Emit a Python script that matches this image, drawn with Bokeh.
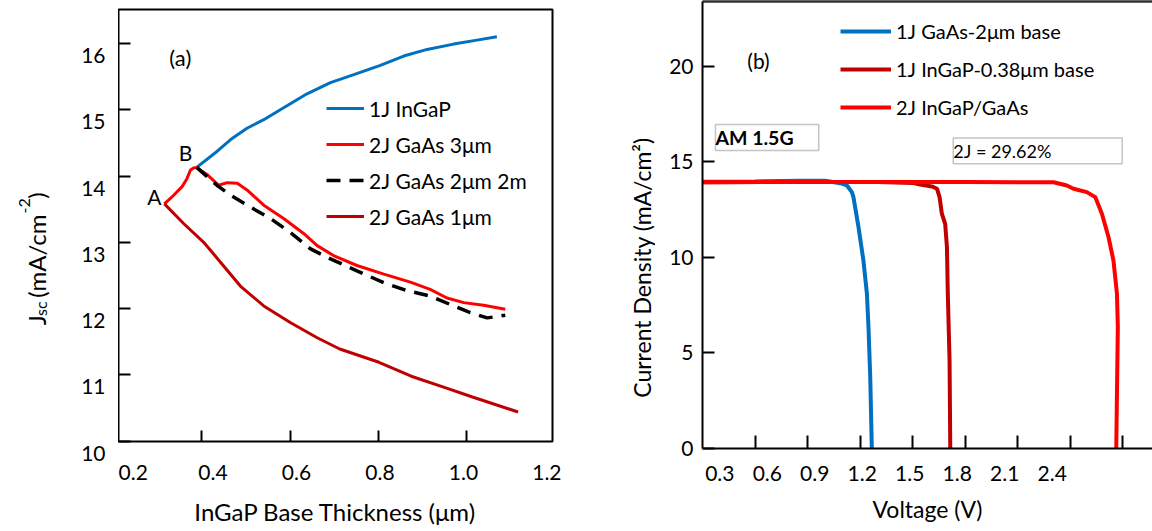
from math import pi
from bokeh.plotting import figure
from bokeh.models import (Range1d, LinearAxis, FixedTicker, Legend, LegendItem,
                          Label, BoxAnnotation, PrintfTickFormatter)
from bokeh.layouts import row
from bokeh.embed import file_html
from bokeh.resources import INLINE

FONT = "Lato"
BLUE = "#0070C0"
RED = "#FF0000"
DARK = "#C00000"

# ---------------- panel (a) data ----------------
ingap_thk = [0.388, 0.434, 0.465, 0.502, 0.540, 0.585, 0.638, 0.691, 0.744, 0.804, 0.857, 0.910, 0.970, 1.023, 1.068]
ingap_jsc = [14.13, 14.37, 14.55, 14.72, 14.85, 15.03, 15.24, 15.41, 15.53, 15.67, 15.81, 15.91, 15.99, 16.05, 16.10]

gaas3_thk = [0.315, 0.336, 0.355, 0.366, 0.374, 0.381, 0.388, 0.412, 0.438, 0.457, 0.480, 0.502, 0.540, 0.585,
             0.631, 0.661, 0.698, 0.751, 0.812, 0.872, 0.917, 0.955, 0.993, 1.038, 1.087]
gaas3_jsc = [13.58, 13.71, 13.84, 13.96, 14.09, 14.12, 14.13, 14.02, 13.86, 13.90, 13.89, 13.79, 13.56, 13.36,
             13.13, 12.95, 12.80, 12.65, 12.52, 12.40, 12.29, 12.16, 12.09, 12.05, 11.99]

gaas2_thk = [0.388, 0.434, 0.465, 0.510, 0.555, 0.600, 0.646, 0.691, 0.751, 0.812, 0.865, 0.917, 0.963, 1.008,
             1.046, 1.068, 1.087]
gaas2_jsc = [14.13, 13.86, 13.71, 13.53, 13.36, 13.15, 12.90, 12.75, 12.57, 12.39, 12.27, 12.19, 12.06, 11.94,
             11.86, 11.88, 11.90]

gaas1_thk = [0.315, 0.359, 0.404, 0.442, 0.487, 0.540, 0.600, 0.661, 0.712, 0.801, 0.874, 0.954, 1.011, 1.116]
gaas1_jsc = [13.58, 13.28, 13.00, 12.70, 12.34, 12.04, 11.79, 11.56, 11.39, 11.19, 10.98, 10.80, 10.67, 10.44]

a_xticks = [0.4, 0.6, 0.8, 1.0]
a_xlabels = [0.2, 0.4, 0.6, 0.8, 1.0, 1.2]
a_yticks = [10, 11, 12, 13, 14, 15, 16]
a_legend = ["1J InGaP", "2J GaAs 3\u03bcm", "2J GaAs 2\u03bcm 2m", "2J GaAs 1\u03bcm"]

# ---------------- panel (b) data ----------------
gaas_v = [0.0, 0.30, 0.56, 0.70, 0.786, 0.825, 0.853, 0.862, 0.891, 0.919, 0.939, 0.948, 0.958, 0.967]
gaas_j = [13.96, 13.98, 14.02, 14.02, 13.89, 13.77, 13.42, 13.16, 11.59, 9.84, 8.10, 6.35, 3.73, 0.0]

ingap_v = [0.0, 0.5, 1.0, 1.205, 1.243, 1.310, 1.339, 1.354, 1.367, 1.386, 1.396, 1.401, 1.411, 1.415]
ingap_j = [13.94, 13.95, 13.95, 13.90, 13.82, 13.72, 13.60, 13.16, 12.29, 11.76, 10.54, 8.10, 4.61, 0.0]

tandem_v = [0.0, 0.5, 1.0, 1.5, 2.005, 2.081, 2.119, 2.195, 2.243, 2.281, 2.319, 2.347, 2.367, 2.372, 2.367, 2.363]
tandem_j = [13.94, 13.95, 13.95, 13.95, 13.94, 13.77, 13.60, 13.42, 13.16, 12.29, 11.06, 9.84, 8.10, 6.35, 2.86, 0.0]

b_xticks = [0.3, 0.6, 0.9, 1.2, 1.5, 1.8, 2.1, 2.4]
b_yticks = [0, 5, 10, 15, 20]
b_legend = ["1J GaAs-2\u03bcm base", "1J InGaP-0.38\u03bcm base", "2J InGaP/GaAs"]

# ranges (main data ranges and the shifted ranges on which the tick labels sit)
XA = (0.211, 1.194)
YA = (9.995, 16.512)
XA_LBL = (0.1736, 1.2134)
YA_SIDE = (8.637, 16.648)
XB = (0.0, 2.570)
YB = (0.0, 23.40)
XB_LBL = (0.1907, 3.0334)


def to_lbl(vals, main, lbl):
    k = (lbl[1] - lbl[0]) / (main[1] - main[0])
    return [lbl[0] + (v - main[0]) * k for v in vals]


def blank_fig(width, xr, yr):
    f = figure(width=width, height=531, x_range=Range1d(*xr), y_range=Range1d(*yr),
               output_backend="svg", toolbar_location=None, frame_align=False,
               x_axis_location=None, y_axis_location=None,
               min_border_left=0, min_border_right=0, min_border_top=0, min_border_bottom=0)
    f.grid.visible = False
    f.outline_line_color = None
    f.background_fill_color = "white"
    f.border_fill_color = "white"
    return f


# ======================= side strip for panel (a): y tick labels + y title =======================
p0 = blank_fig(118, (0, 118), YA_SIDE)
for v in a_yticks:
    p0.add_layout(Label(x=105, y=v, y_offset=-12, text=str(v),
                        text_align="right", text_baseline="middle",
                        text_font=FONT, text_font_size="21px", text_color="black"))
ty = 11.75
pieces = [("J", 0, 0, "24px"), ("sc", 9.2, 4, "16px"), ("(mA/cm", 27.4, 0, "24px"),
          ("-2", 111.6, -12, "16px"), (")", 126.3, 0, "24px")]
for txt, along, shift, fs in pieces:
    p0.add_layout(Label(x=36, y=ty, x_offset=shift, y_offset=along, angle=pi / 2,
                        text=txt, text_align="left", text_baseline="alphabetic",
                        text_font=FONT, text_font_size=fs, text_color="black"))

# ======================= panel (a) =======================
p1 = figure(width=490, height=531, x_range=Range1d(*XA), y_range=Range1d(*YA),
            output_backend="svg", toolbar_location=None, x_axis_location=None, frame_align=False,
            min_border_left=0, min_border_right=56, min_border_top=9, min_border_bottom=90)
p1.grid.visible = False
p1.outline_line_color = "black"
p1.outline_line_width = 2
p1.background_fill_color = "white"
p1.border_fill_color = "white"

ya = p1.left[0]
ya.ticker = FixedTicker(ticks=[], minor_ticks=a_yticks)
ya.major_tick_in = 0
ya.major_tick_out = 0
ya.minor_tick_in = 12
ya.minor_tick_out = 0
ya.minor_tick_line_color = "black"
ya.minor_tick_line_width = 2
ya.axis_line_color = None
ya.major_label_standoff = 0

p1.extra_x_ranges = {"lbl": Range1d(*XA_LBL)}
xa = LinearAxis(x_range_name="lbl",
                ticker=FixedTicker(ticks=a_xlabels, minor_ticks=to_lbl(a_xticks, XA, XA_LBL)),
                formatter=PrintfTickFormatter(format="%.1f"))
xa.major_tick_in = 0
xa.major_tick_out = 0
xa.minor_tick_in = 11
xa.minor_tick_out = 0
xa.minor_tick_line_color = "black"
xa.minor_tick_line_width = 2
xa.axis_line_color = None
xa.major_label_text_font = FONT
xa.major_label_text_font_size = "21px"
xa.major_label_text_color = "black"
xa.major_label_standoff = 23
xa.axis_label = "InGaP Base Thickness (\u03bcm)"
xa.axis_label_text_font = FONT
xa.axis_label_text_font_size = "24px"
xa.axis_label_text_font_style = "normal"
xa.axis_label_text_color = "black"
xa.axis_label_standoff = 14
p1.add_layout(xa, "below")

r_blue = p1.line(ingap_thk, ingap_jsc, line_color=BLUE, line_width=3)
r_red = p1.line(gaas3_thk, gaas3_jsc, line_color=RED, line_width=3)
r_dash = p1.line(gaas2_thk, gaas2_jsc, line_color="black", line_width=3.5, line_dash="14 9")
r_dark = p1.line(gaas1_thk, gaas1_jsc, line_color=DARK, line_width=3)

leg1 = Legend(items=[LegendItem(label=a_legend[0], renderers=[r_blue]),
                     LegendItem(label=a_legend[1], renderers=[r_red]),
                     LegendItem(label=a_legend[2], renderers=[r_dash]),
                     LegendItem(label=a_legend[3], renderers=[r_dark])],
              location=(208, 207), glyph_width=38, glyph_height=36, label_height=36,
              spacing=0, padding=0, margin=0, label_standoff=5,
              border_line_color=None, background_fill_alpha=0,
              label_text_font=FONT, label_text_font_size="21px", label_text_color="black")
p1.add_layout(leg1, "center")

p1.add_layout(Label(x=0.351, y=15.79, text="(a)", text_align="center", text_baseline="middle",
                    text_font=FONT, text_font_size="22px", text_color="black"))
p1.add_layout(Label(x=0.2925, y=13.686, text="A", text_align="center", text_baseline="middle",
                    text_font=FONT, text_font_size="21px", text_color="black"))
p1.add_layout(Label(x=0.3627, y=14.354, text="B", text_align="center", text_baseline="middle",
                    text_font=FONT, text_font_size="21px", text_color="black"))

# ======================= side strip for panel (b): y title =======================
pT = blank_fig(47, (0, 47), (0, 531))
pT.add_layout(Label(x=33, y=264, angle=pi / 2, text="Current Density (mA/cm\u00b2)",
                    text_align="center", text_baseline="alphabetic",
                    text_font=FONT, text_font_size="23px", text_color="black"))

# ======================= panel (b) =======================
p2 = figure(width=497, height=531, x_range=Range1d(*XB), y_range=Range1d(*YB),
            output_backend="svg", toolbar_location=None, x_axis_location=None, frame_align=False,
            min_border_left=47, min_border_right=0, min_border_top=1, min_border_bottom=83)
p2.grid.visible = False
p2.outline_line_color = None
p2.background_fill_color = "white"
p2.border_fill_color = "white"

yb = p2.left[0]
yb.ticker = FixedTicker(ticks=b_yticks)
yb.major_tick_in = 12
yb.major_tick_out = 0
yb.minor_tick_in = 0
yb.minor_tick_out = 0
yb.major_tick_line_width = 2
yb.axis_line_width = 2
yb.major_label_text_font = FONT
yb.major_label_text_font_size = "21px"
yb.major_label_text_color = "black"
yb.major_label_standoff = 9

top_ax = LinearAxis(ticker=FixedTicker(ticks=[]))
top_ax.major_tick_in = 0
top_ax.major_tick_out = 0
top_ax.minor_tick_in = 0
top_ax.minor_tick_out = 0
top_ax.major_label_standoff = 0
top_ax.axis_line_color = "#333333"
top_ax.axis_line_width = 2.5
p2.add_layout(top_ax, "above")

p2.extra_x_ranges = {"lbl": Range1d(*XB_LBL)}
xb = LinearAxis(x_range_name="lbl",
                ticker=FixedTicker(ticks=b_xticks, minor_ticks=to_lbl(b_xticks, XB, XB_LBL)),
                formatter=PrintfTickFormatter(format="%.1f"))
xb.major_tick_in = 0
xb.major_tick_out = 0
xb.minor_tick_in = 13
xb.minor_tick_out = 0
xb.minor_tick_line_color = "black"
xb.minor_tick_line_width = 2
xb.axis_line_color = "black"
xb.axis_line_width = 2
xb.major_label_text_font = FONT
xb.major_label_text_font_size = "21px"
xb.major_label_text_color = "black"
xb.major_label_standoff = 17
xb.axis_label = "Voltage (V)"
xb.axis_label_text_font = FONT
xb.axis_label_text_font_size = "23px"
xb.axis_label_text_font_style = "normal"
xb.axis_label_text_color = "black"
xb.axis_label_standoff = 11
p2.add_layout(xb, "below")

q_blue = p2.line(gaas_v, gaas_j, line_color=BLUE, line_width=4)
q_dark = p2.line(ingap_v, ingap_j, line_color=DARK, line_width=4)
q_red = p2.line(tandem_v, tandem_j, line_color=RED, line_width=4)

leg2 = Legend(items=[LegendItem(label=b_legend[0], renderers=[q_blue]),
                     LegendItem(label=b_legend[1], renderers=[q_dark]),
                     LegendItem(label=b_legend[2], renderers=[q_red])],
              location=(138, 322), glyph_width=51, glyph_height=38, label_height=38,
              spacing=0, padding=0, margin=0, label_standoff=5,
              border_line_color=None, background_fill_alpha=0,
              label_text_font=FONT, label_text_font_size="20px", label_text_color="black")
p2.add_layout(leg2, "center")

p2.add_layout(Label(x=0.32, y=20.29, text="(b)", text_align="center", text_baseline="middle",
                    text_font=FONT, text_font_size="21px", text_color="black"))

p2.add_layout(BoxAnnotation(left=0.074, right=0.664, bottom=15.60, top=16.96,
                            fill_alpha=0, line_color="#404040", line_width=1.5))
p2.add_layout(Label(x=0.074, y=16.28, text="AM 1.5G", text_align="left", text_baseline="middle",
                    text_font=FONT, text_font_size="19.5px", text_font_style="bold", text_color="black"))
p2.add_layout(BoxAnnotation(left=1.432, right=2.397, bottom=14.91, top=16.25,
                            fill_alpha=0, line_color="#404040", line_width=1.5))
p2.add_layout(Label(x=1.432, y=15.58, text="2J = 29.62%", text_align="left", text_baseline="middle",
                    text_font=FONT, text_font_size="18px", text_color="black"))

layout = row(p0, p1, pT, p2)
open("out.html", "w").write(file_html(layout, INLINE))
